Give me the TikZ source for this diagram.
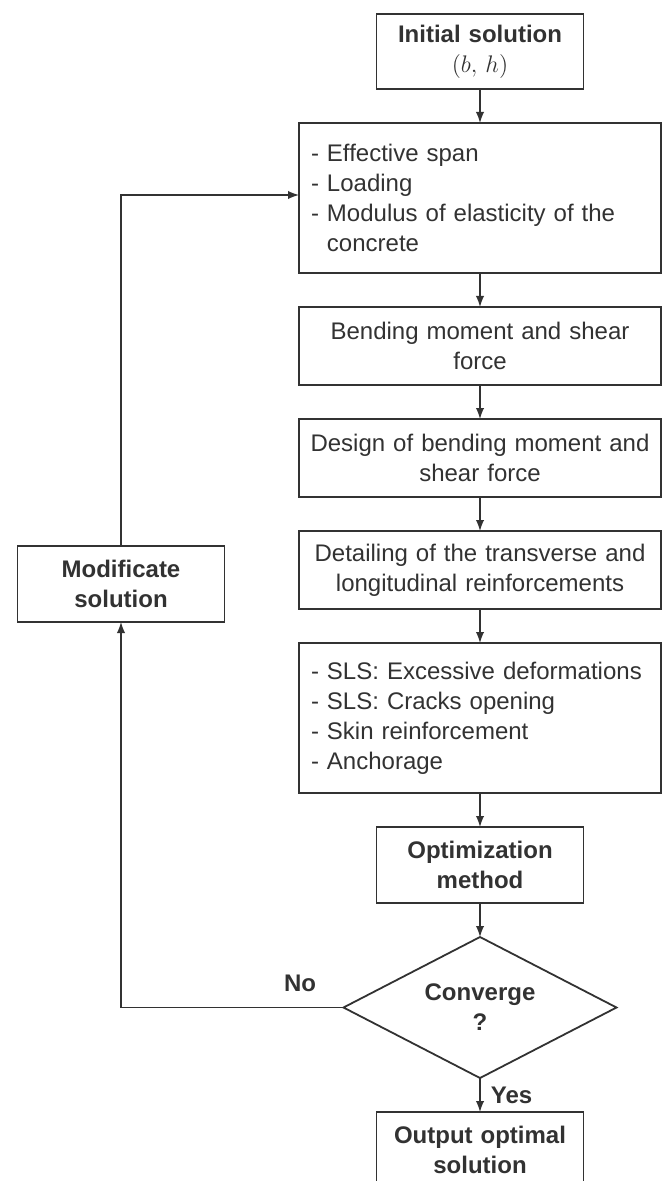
\documentclass[tikz,border=0pt]{standalone}
\usepackage{fontspec}
\setmainfont{Liberation Sans}
\usetikzlibrary{positioning,shapes.geometric}
\definecolor{ink}{RGB}{50,50,50}
\tikzset{
  box/.style={draw=ink, line width=0.9pt, text=ink, text width=177pt, inner xsep=2pt,
    inner ysep=0pt, outer sep=0pt, minimum height=39pt, align=center, font=\fontsize{12}{15}\selectfont},
  listbox/.style={box, text width=169pt, inner xsep=6pt, align=left, minimum height=75pt},
  boldbox/.style={box, text width=99.5pt, minimum height=38pt, font=\fontsize{12}{15}\selectfont\bfseries},
  decision/.style={draw=ink, line width=0.9pt, text=ink, diamond, aspect=1.936, inner sep=0pt, outer sep=0pt,
    minimum width=136.5pt, minimum height=70.5pt, align=center, font=\fontsize{12}{15}\selectfont\bfseries},
  lbl/.style={text=ink, inner sep=0pt, font=\fontsize{12}{15}\selectfont\bfseries},
  link/.style={draw=ink, line width=0.9pt, ->},
}
\begin{document}
\begin{tikzpicture}[>=latex, node distance=17pt]
\useasboundingbox (0,0) rectangle (331pt,-590.5pt);

\node[boldbox, minimum height=37.5pt] (init) at (240pt,-25.75pt) {Initial solution\\{\mdseries$(b,\,h)$}};
\node[listbox, below=of init] (params) {- Effective span\\- Loading\\- Modulus of elasticity of the\\\hphantom{- }concrete};
\node[box, below=of params] (forces) {Bending moment and shear\\force};
\node[box, below=of forces] (design) {Design of bending moment and\\shear force};
\node[box, below=of design] (detail) {Detailing of the transverse and\\longitudinal reinforcements};
\node[listbox, below=of detail] (checks) {- SLS: Excessive deformations\\- SLS: Cracks opening\\- Skin reinforcement\\- Anchorage};
\node[boldbox, below=of checks] (optim) {Optimization\\method};
\node[decision, below=of optim] (conv) {Converge\\?};
\node[boldbox, below=of conv] (output) {Output optimal\\solution};
\node[boldbox] (modif) at (60.5pt,-292pt) {Modificate\\solution};

\draw[link] (init) -- (params);
\draw[link] (params) -- (forces);
\draw[link] (forces) -- (design);
\draw[link] (design) -- (detail);
\draw[link] (detail) -- (checks);
\draw[link] (checks) -- (optim);
\draw[link] (optim) -- (conv);
\draw[link] (conv) -- node[lbl, right=5pt] (yes) {Yes} (output);
\draw[link] (conv.west) -| (modif.south);
\draw[link] (modif.north) |- ([yshift=1.5pt]params.west);
\node[lbl, above left=7.5pt and 13.5pt of conv.west] (no) {No};

\end{tikzpicture}
\end{document}
